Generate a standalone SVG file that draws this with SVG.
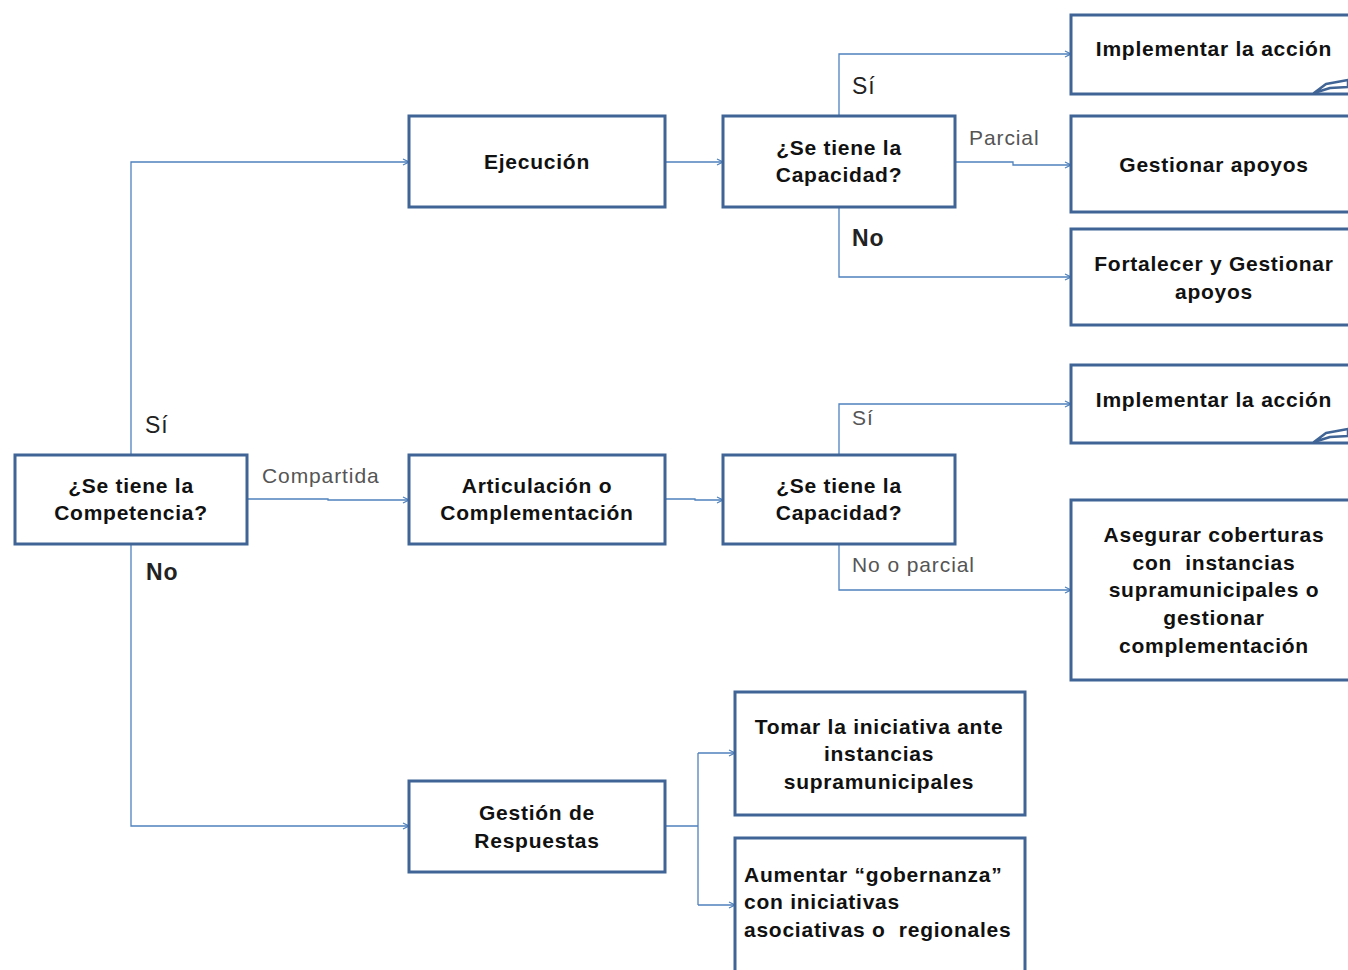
<svg xmlns="http://www.w3.org/2000/svg" width="1348" height="970" viewBox="0 0 1348 970">
<defs>
<marker id="arr" viewBox="0 0 8 8" refX="7" refY="4" markerWidth="8" markerHeight="8" markerUnits="userSpaceOnUse" orient="auto">
<path d="M1,1 L7,4 L1,7" fill="none" stroke="#4F81BD" stroke-width="1.2"/>
</marker>
</defs>
<style>
.box{fill:#fff;stroke:#3F6495;stroke-width:3}
.t{font-family:"Liberation Sans",Arial,sans-serif;font-size:21px;letter-spacing:0.75px;font-weight:bold;fill:#111;text-anchor:middle;white-space:pre}
.tl{font-family:"Liberation Sans",Arial,sans-serif;font-size:21px;letter-spacing:0.75px;font-weight:bold;fill:#111;white-space:pre}
.c{fill:none;stroke:#4F81BD;stroke-width:1.3}
.g{font-family:"Liberation Sans",Arial,sans-serif;font-size:21px;letter-spacing:0.9px;fill:#555}
.k{font-family:"Liberation Sans",Arial,sans-serif;font-size:23px;letter-spacing:1px;fill:#222}
.kb{font-family:"Liberation Sans",Arial,sans-serif;font-size:23px;letter-spacing:1px;font-weight:bold;fill:#222}
.fold{fill:#fff;stroke:#3F6495;stroke-width:2.5;stroke-linejoin:round}
</style>
<rect width="1348" height="970" fill="#fff"/>
<g id="connectors">
<path class="c" d="M131,455 V162 H409" marker-end="url(#arr)"/>
<path class="c" d="M247,499 H328 V500 H409" marker-end="url(#arr)"/>
<path class="c" d="M131,544 V826 H409" marker-end="url(#arr)"/>
<path class="c" d="M665,162 H723" marker-end="url(#arr)"/>
<path class="c" d="M839,116 V54 H1071" marker-end="url(#arr)"/>
<path class="c" d="M955,162 H1013 V165 H1071" marker-end="url(#arr)"/>
<path class="c" d="M839,207 V277 H1071" marker-end="url(#arr)"/>
<path class="c" d="M665,499 H695 V500 H723" marker-end="url(#arr)"/>
<path class="c" d="M839,455 V404 H1071" marker-end="url(#arr)"/>
<path class="c" d="M839,544 V590 H1071" marker-end="url(#arr)"/>
<path class="c" d="M665,826 H698"/>
<path class="c" d="M698,753 V905"/>
<path class="c" d="M698,753 H735" marker-end="url(#arr)"/>
<path class="c" d="M698,905 H735" marker-end="url(#arr)"/>
</g>
<g id="labels">
<text class="k" x="145" y="433">Sí</text>
<text class="kb" x="146" y="580">No</text>
<text class="g" x="262" y="483">Compartida</text>
<text class="k" x="852" y="94">Sí</text>
<text class="g" x="969" y="145">Parcial</text>
<text class="kb" x="852" y="246">No</text>
<text class="g" x="852" y="425">Sí</text>
<text class="g" x="852" y="572">No o parcial</text>
</g>
<g id="competencia">
<rect class="box" x="15" y="455" width="232" height="89"/>
<text class="t" x="131" y="493">¿Se tiene la</text>
<text class="t" x="131" y="520">Competencia?</text>
</g>
<g id="ejecucion">
<rect class="box" x="409" y="116" width="256" height="91"/>
<text class="t" x="537" y="169">Ejecución</text>
</g>
<g id="articulacion">
<rect class="box" x="409" y="455" width="256" height="89"/>
<text class="t" x="537" y="493">Articulación o</text>
<text class="t" x="537" y="520">Complementación</text>
</g>
<g id="gestion">
<rect class="box" x="409" y="781" width="256" height="91"/>
<text class="t" x="537" y="820">Gestión de</text>
<text class="t" x="537" y="848">Respuestas</text>
</g>
<g id="capacidad1">
<rect class="box" x="723" y="116" width="232" height="91"/>
<text class="t" x="839" y="155">¿Se tiene la</text>
<text class="t" x="839" y="182">Capacidad?</text>
</g>
<g id="capacidad2">
<rect class="box" x="723" y="455" width="232" height="89"/>
<text class="t" x="839" y="493">¿Se tiene la</text>
<text class="t" x="839" y="520">Capacidad?</text>
</g>
<g id="implementar1">
<rect class="box" x="1071" y="15" width="290" height="79"/>
<text class="t" x="1214" y="56">Implementar la acción</text>
<path class="fold" d="M1314,93 L1326,84 L1348,80 L1348,87 L1330,88 Z"/>
</g>
<g id="gestionar">
<rect class="box" x="1071" y="116" width="290" height="96"/>
<text class="t" x="1214" y="172">Gestionar apoyos</text>
</g>
<g id="fortalecer">
<rect class="box" x="1071" y="229" width="290" height="96"/>
<text class="t" x="1214" y="271">Fortalecer y Gestionar</text>
<text class="t" x="1214" y="299">apoyos</text>
</g>
<g id="implementar2">
<rect class="box" x="1071" y="365" width="290" height="78"/>
<text class="t" x="1214" y="407">Implementar la acción</text>
<path class="fold" d="M1314,442 L1326,433 L1348,429 L1348,436 L1330,437 Z"/>
</g>
<g id="asegurar">
<rect class="box" x="1071" y="500" width="290" height="180"/>
<text class="t" x="1214" y="542">Asegurar coberturas</text>
<text class="t" x="1214" y="570">con  instancias</text>
<text class="t" x="1214" y="597">supramunicipales o</text>
<text class="t" x="1214" y="625">gestionar</text>
<text class="t" x="1214" y="653">complementación</text>
</g>
<g id="tomar">
<rect class="box" x="735" y="692" width="290" height="123"/>
<text class="t" x="879" y="734">Tomar la iniciativa ante</text>
<text class="t" x="879" y="761">instancias</text>
<text class="t" x="879" y="789">supramunicipales</text>
</g>
<g id="aumentar">
<rect class="box" x="735" y="838" width="290" height="140"/>
<text class="tl" x="744" y="882">Aumentar “gobernanza”</text>
<text class="tl" x="744" y="909">con iniciativas</text>
<text class="tl" x="744" y="937">asociativas o  regionales</text>
</g>
</svg>
